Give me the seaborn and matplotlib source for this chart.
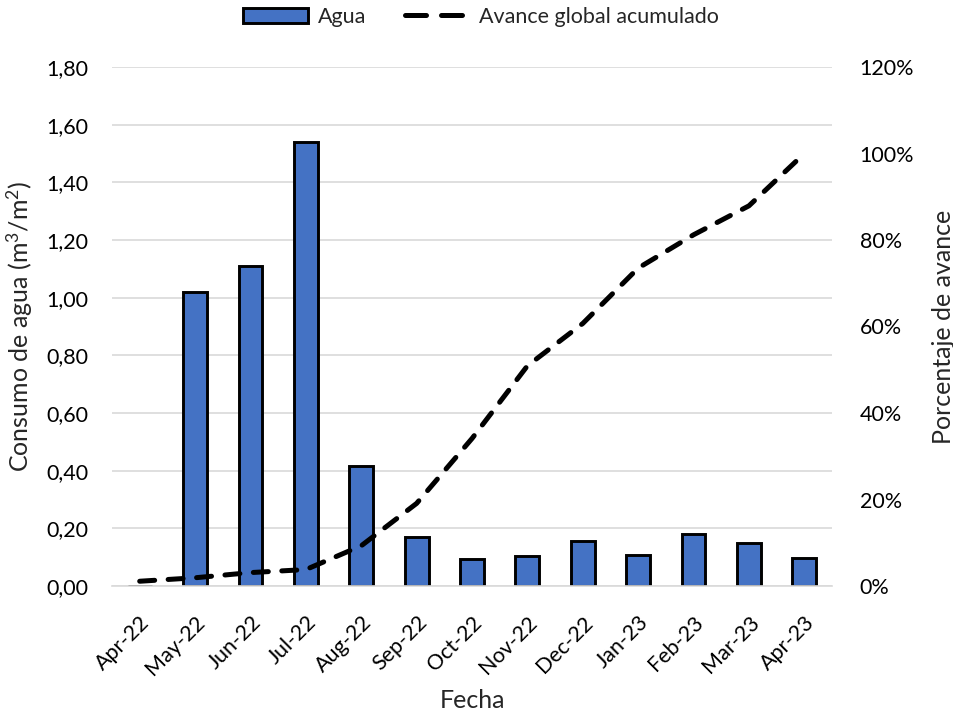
import numpy as np
import pandas as pd
import matplotlib
matplotlib.use("Agg")
import matplotlib.pyplot as plt
from matplotlib.patches import Patch
from matplotlib.lines import Line2D
from matplotlib.ticker import FuncFormatter
import seaborn as sns

# Monthly data
months = ["Apr-22", "May-22", "Jun-22", "Jul-22", "Aug-22", "Sep-22", "Oct-22",
          "Nov-22", "Dec-22", "Jan-23", "Feb-23", "Mar-23", "Apr-23"]
agua = [0.0, 1.02, 1.11, 1.54, 0.415, 0.17, 0.095, 0.105, 0.157, 0.107, 0.181, 0.148, 0.096]
avance = [0.011, 0.019, 0.031, 0.038, 0.093, 0.191, 0.341, 0.509, 0.607, 0.735, 0.812, 0.879, 1.0]

left_ticks = [0.0, 0.2, 0.4, 0.6, 0.8, 1.0, 1.2, 1.4, 1.6, 1.8]
right_ticks = [0.0, 0.2, 0.4, 0.6, 0.8, 1.0, 1.2]

df = pd.DataFrame({"Fecha": months, "Agua": agua, "Avance": avance,
                   "pos": np.arange(len(months))})

sns.set_theme(style="white")
plt.rcParams["font.family"] = ["Lato", "DejaVu Sans"]

TICK_FS = 15.5
LABEL_FS = 18

fig = plt.figure(figsize=(9.54, 7.15), dpi=100)
ax = fig.add_axes([112 / 954, 1 - 586 / 715, 720 / 954, (586 - 67) / 715])

bar_color = "#4472C4"
sns.barplot(data=df, x="Fecha", y="Agua", ax=ax, color=bar_color, width=0.43,
            edgecolor="black", linewidth=2.1, saturation=1)

ax.set_ylim(0, 1.8)
ax.set_xlim(-0.5, len(months) - 0.5)
ax.set_yticks(left_ticks)
ax.yaxis.set_major_formatter(FuncFormatter(lambda v, p: f"{v:.2f}".replace(".", ",")))
ax.grid(axis="y", color="#d9d9d9", linewidth=1.2)
ax.grid(axis="x", visible=False)
ax.set_axisbelow(True)
for s in ["top", "right", "left"]:
    ax.spines[s].set_visible(False)
ax.spines["bottom"].set_color("#d9d9d9")
ax.spines["bottom"].set_linewidth(1.2)
ax.tick_params(axis="y", length=0, labelsize=TICK_FS, colors="black", pad=17)
ax.tick_params(axis="x", length=0, labelsize=TICK_FS, colors="black", pad=19)
plt.setp(ax.get_xticklabels(), rotation=45, ha="right", va="top", rotation_mode="anchor")
ax.set_ylabel(r"Consumo de agua (m$\mathregular{^3}$/m$\mathregular{^2}$)",
              fontsize=LABEL_FS, labelpad=8)
ax.set_xlabel("Fecha", fontsize=LABEL_FS, labelpad=7)

ax2 = ax.twinx()
sns.lineplot(data=df, x="pos", y="Avance", ax=ax2, color="black", linewidth=3.6,
             dashes=False)
line = ax2.get_lines()[0]
line.set_dashes((3.0, 2.7))
line.set_dash_capstyle("round")
ax2.set_ylim(0, 1.2)
ax2.set_yticks(right_ticks)
ax2.yaxis.set_major_formatter(FuncFormatter(lambda v, p: f"{v * 100:.0f}%"))
for s in ["top", "right", "left", "bottom"]:
    ax2.spines[s].set_visible(False)
ax2.tick_params(axis="y", length=0, labelsize=TICK_FS, colors="black", pad=20)
ax2.set_ylabel("Porcentaje de avance", fontsize=LABEL_FS, labelpad=13)
ax2.set_xlabel("")
ax2.grid(False)

handles = [
    Patch(facecolor=bar_color, edgecolor="black", linewidth=2.1, label="Agua"),
    Line2D([0], [0], color="black", linewidth=3.6, dashes=(4.2, 3.0),
           dash_capstyle="round", label="Avance global acumulado"),
]
fig.legend(handles=handles, loc="center", bbox_to_anchor=(481 / 954, 1 - 17 / 715), ncol=2,
           frameon=False, fontsize=TICK_FS, handlelength=3.0, columnspacing=1.8,
           handletextpad=0.45)

fig.savefig("out.png", dpi=100)
